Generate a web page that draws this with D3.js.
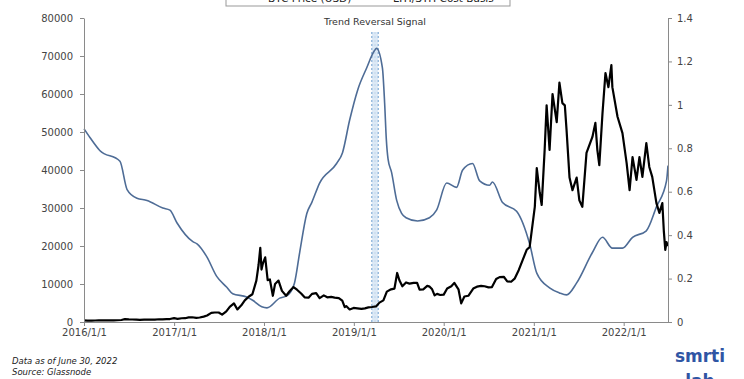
<!DOCTYPE html>
<html><head><meta charset="utf-8">
<script src="https://cdn.jsdelivr.net/npm/d3@7"></script>
<style>
body{margin:0;background:#fff;}
svg{display:block;font-family:"DejaVu Sans",sans-serif;}
</style></head>
<body><svg id="c" width="744" height="379"></svg>
<script>
// BTC Price (USD) – dates and values
const btcDates = ["2016-01-01","2016-01-15","2016-02-01","2016-02-15","2016-03-01","2016-03-15","2016-04-01","2016-04-15","2016-05-01","2016-05-15","2016-06-01","2016-06-15","2016-07-01","2016-07-15","2016-08-01","2016-08-15","2016-09-01","2016-09-15","2016-10-01","2016-10-15","2016-11-01","2016-11-15","2016-12-01","2016-12-15",
"2017-01-01","2017-01-15","2017-02-01","2017-02-15","2017-03-01","2017-03-15","2017-04-01","2017-04-15","2017-05-01","2017-05-15","2017-06-01","2017-06-15","2017-07-01","2017-07-15","2017-08-01","2017-08-15","2017-09-01","2017-09-15","2017-10-01","2017-10-15","2017-11-01","2017-11-15","2017-12-01","2017-12-10","2017-12-17","2017-12-22","2017-12-28",
"2018-01-06","2018-01-16","2018-01-25","2018-02-06","2018-02-15","2018-03-01","2018-03-15","2018-04-01","2018-04-15","2018-05-01","2018-05-15","2018-06-01","2018-06-15","2018-07-01","2018-07-15","2018-08-01","2018-08-15","2018-09-01","2018-09-15","2018-10-01","2018-10-15","2018-11-01","2018-11-15","2018-11-25","2018-12-01","2018-12-15","2018-12-31",
"2019-01-15","2019-02-01","2019-02-15","2019-03-01","2019-03-15","2019-04-01","2019-04-15","2019-05-01","2019-05-15","2019-06-01","2019-06-15","2019-06-26","2019-07-05","2019-07-17","2019-08-01","2019-08-15","2019-09-01","2019-09-15","2019-09-25","2019-10-10","2019-10-26","2019-11-05","2019-11-15","2019-11-25","2019-12-05","2019-12-18",
"2020-01-01","2020-01-15","2020-02-01","2020-02-13","2020-03-01","2020-03-12","2020-03-25","2020-04-10","2020-04-30","2020-05-15","2020-06-01","2020-06-15","2020-07-01","2020-07-15","2020-08-01","2020-08-15","2020-09-01","2020-09-15","2020-10-01","2020-10-15","2020-11-01","2020-11-15","2020-12-03","2020-12-15",
"2021-01-05","2021-01-13","2021-01-25","2021-02-02","2021-02-14","2021-02-22","2021-03-06","2021-03-18","2021-04-04","2021-04-15","2021-04-27","2021-05-07","2021-05-14","2021-05-26","2021-06-07","2021-06-24","2021-07-05","2021-07-17","2021-08-03","2021-08-27","2021-09-08","2021-09-16","2021-09-24","2021-10-07","2021-10-19","2021-10-31","2021-11-12","2021-11-16","2021-12-07","2021-12-27",
"2022-01-13","2022-01-25","2022-02-06","2022-02-22","2022-03-06","2022-03-18","2022-04-03","2022-04-15","2022-04-27","2022-05-14","2022-05-26","2022-06-07","2022-06-13","2022-06-19","2022-06-24","2022-06-30"];
const btcValues = [430,380,370,400,430,415,420,430,450,455,530,750,670,660,600,570,610,605,615,640,730,710,750,780,
1000,820,990,1000,1200,1250,1080,1180,1420,1700,2400,2500,2500,1930,2800,4000,4900,3300,4400,5700,6700,7300,10900,15000,19500,13800,15500,
17000,11000,11200,6900,10000,10900,8200,6900,8100,9200,8500,7500,6500,6400,7400,7600,6300,7000,6500,6600,6400,6300,5600,3900,4200,3300,3700,
3600,3450,3600,3850,3950,4100,5100,5700,8000,8600,8800,12900,11000,9400,10400,10100,10300,10300,8500,8600,9500,9300,8600,7000,7400,7100,
7200,8800,9400,10300,8600,4900,6700,6900,8800,9300,9500,9400,9100,9200,11300,11800,11900,10700,10600,11400,13700,16000,19000,19700,
30300,40500,34000,30800,45300,57000,45300,60000,52600,63000,57600,57000,50500,38000,34700,38000,32000,30300,44500,48700,52400,45300,41300,55000,65500,61800,67600,61800,54000,49700,
41800,34700,43400,37400,43400,38200,47100,40800,38200,31300,28700,31300,24000,19000,21000,20000];

// LTH/STH Cost Basis – dates and values
const cbDates = ["2016-01-01","2016-01-25","2016-03-05","2016-05-26","2016-06-24","2016-08-03","2016-09-13","2016-11-16","2016-12-15","2017-01-13","2017-03-18","2017-04-04","2017-05-14","2017-06-23","2017-08-03","2017-08-27","2017-10-23","2017-11-16","2017-12-23","2018-01-13","2018-03-06","2018-04-03","2018-04-27","2018-05-05","2018-05-26","2018-06-24","2018-07-14","2018-08-15","2018-10-23","2018-11-16","2018-12-15","2019-01-17","2019-02-22","2019-03-26","2019-04-03","2019-04-27","2019-05-06","2019-05-13","2019-05-20","2019-06-03","2019-06-24","2019-07-14","2019-08-01","2019-09-17","2019-11-04","2019-12-03","2020-01-13","2020-02-22","2020-03-18","2020-04-27","2020-05-26","2020-07-05","2020-07-17","2020-08-27","2020-10-23","2020-12-15","2021-01-13","2021-03-06","2021-04-15","2021-05-14","2021-06-24","2021-08-27","2021-10-07","2021-11-16","2021-12-27","2022-02-06","2022-04-03","2022-05-14","2022-06-24","2022-06-30"];
const cbValues = [0.89,0.85,0.79,0.74,0.61,0.57,0.56,0.525,0.515,0.456,0.37,0.36,0.30,0.21,0.16,0.13,0.115,0.10,0.07,0.065,0.11,0.12,0.155,0.18,0.32,0.50,0.55,0.64,0.73,0.78,0.93,1.07,1.17,1.25,1.26,1.17,1.01,0.84,0.75,0.69,0.56,0.50,0.48,0.465,0.48,0.515,0.64,0.62,0.70,0.73,0.65,0.63,0.645,0.55,0.51,0.36,0.225,0.157,0.134,0.125,0.18,0.32,0.39,0.34,0.34,0.39,0.42,0.53,0.65,0.72];

const leftTicks = [0,10000,20000,30000,40000,50000,60000,70000,80000];
const rightTicks = [0,0.2,0.4,0.6,0.8,1,1.2,1.4];
const xTickDates = ["2016-01-01","2017-01-01","2018-01-01","2019-01-01","2020-01-01","2021-01-01","2022-01-01"];
const xTickLabels = ["2016/1/1","2017/1/1","2018/1/1","2019/1/1","2020/1/1","2021/1/1","2022/1/1"];
const signalRange = ["2019-03-15","2019-04-10"];
const seriesNames = ["BTC Price (USD)","LTH/STH Cost Basis"];

const parse = d3.timeParse("%Y-%m-%d");
const svg = d3.select("#c");
const L = 84, R = 668, T = 18, B = 322;

const x = d3.scaleTime().domain([parse("2016-01-01"), parse("2022-06-30")]).range([L, R]);
const yL = d3.scaleLinear().domain([0, 80000]).range([B, T]);
const yR = d3.scaleLinear().domain([0, 1.4]).range([B, T]);

const axisColor = "#8a8a8a", textColor = "#444";

// signal band
const s0 = x(parse(signalRange[0])), s1 = x(parse(signalRange[1]));
svg.append("rect").attr("x", s0).attr("y", 32).attr("width", s1 - s0).attr("height", B - 32)
  .attr("fill", "#dce9f6");
[s0, (s0+s1)/2, s1].forEach((sx,i) => {
  svg.append("line").attr("x1", sx).attr("x2", sx).attr("y1", 32).attr("y2", B)
    .attr("stroke", i===1 ? "#c3d6ea" : "#6f9fcf").attr("stroke-width", 1).attr("stroke-dasharray", "2,2");
});
svg.append("text").attr("x", (s0+s1)/2).attr("y", 25).attr("text-anchor", "middle")
  .attr("font-size", 9.5).attr("fill", "#333").text("Trend Reversal Signal");

// lines
const btc = btcDates.map((d,i) => ({d: parse(d), v: btcValues[i]}));
const cb = cbDates.map((d,i) => ({d: parse(d), v: cbValues[i]}));
svg.append("path").datum(cb).attr("fill","none").attr("stroke","#4e6c96").attr("stroke-width",1.6)
  .attr("stroke-linejoin","round")
  .attr("d", d3.line().x(p => x(p.d)).y(p => yR(p.v)).curve(d3.curveMonotoneX));
svg.append("path").datum(btc).attr("fill","none").attr("stroke","#000").attr("stroke-width",2.2)
  .attr("stroke-linejoin","round")
  .attr("d", d3.line().x(p => x(p.d)).y(p => yL(p.v)));

// axes
function styleAxis(g){
  g.selectAll(".domain").attr("stroke", axisColor);
  g.selectAll(".tick line").attr("stroke", axisColor);
  g.selectAll("text").attr("fill", textColor).attr("font-size", 10).attr("font-family","DejaVu Sans, sans-serif");
}
svg.append("g").attr("transform", `translate(${L},0)`)
  .call(d3.axisLeft(yL).tickValues(leftTicks).tickFormat(d => String(d)).tickSize(4).tickSizeOuter(0).tickPadding(7))
  .call(styleAxis);
svg.append("g").attr("transform", `translate(${R},0)`)
  .call(d3.axisRight(yR).tickValues(rightTicks).tickFormat(d => String(d)).tickSize(4).tickSizeOuter(0).tickPadding(5))
  .call(styleAxis);
svg.append("g").attr("transform", `translate(0,${B})`)
  .call(d3.axisBottom(x).tickValues(xTickDates.map(parse)).tickFormat((d,i) => xTickLabels[i]).tickSize(4).tickSizeOuter(0).tickPadding(3))
  .call(styleAxis);

// legend (partially cut off at the top, as in the reference)
const lg = svg.append("g");
lg.append("rect").attr("x", 226).attr("y", -14).attr("width", 284).attr("height", 20)
  .attr("fill", "#fff").attr("stroke", "#999").attr("stroke-width", 1);
lg.append("line").attr("x1", 246).attr("x2", 265).attr("y1", -2).attr("y2", -2).attr("stroke", "#000").attr("stroke-width", 2);
lg.append("text").attr("x", 268).attr("y", 2).attr("font-size", 10.5).attr("fill", "#222").text(seriesNames[0]);
lg.append("line").attr("x1", 367).attr("x2", 390).attr("y1", -2).attr("y2", -2).attr("stroke", "#4e6c96").attr("stroke-width", 2);
lg.append("text").attr("x", 393).attr("y", 2).attr("font-size", 10.5).attr("fill", "#222").text(seriesNames[1]);

// footnotes
svg.append("text").attr("x", 12).attr("y", 364).attr("font-size", 8.5).attr("font-style", "italic").attr("fill", "#222").text("Data as of June 30, 2022");
svg.append("text").attr("x", 12).attr("y", 375).attr("font-size", 8.5).attr("font-style", "italic").attr("fill", "#222").text("Source: Glassnode");

// logo
svg.append("text").attr("x", 700).attr("y", 362).attr("text-anchor","middle").attr("font-size", 17).attr("font-weight", "bold").attr("fill", "#2f55a4").text("smrti");
svg.append("text").attr("x", 700).attr("y", 387).attr("text-anchor","middle").attr("font-size", 17).attr("font-weight", "bold").attr("fill", "#2f55a4").text("lab");
</script></body></html>
